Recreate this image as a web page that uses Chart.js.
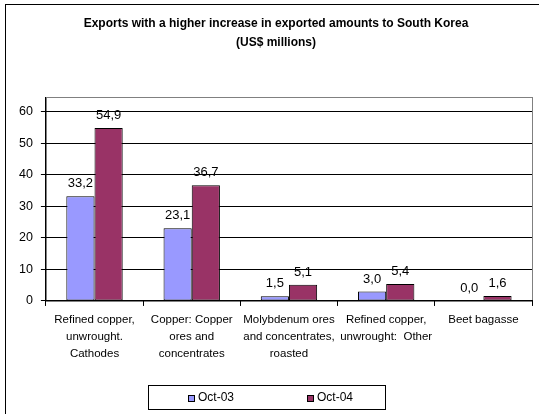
<!DOCTYPE html>
<html>
<head>
<meta charset="utf-8">
<script src="https://cdn.jsdelivr.net/npm/chart.js@4"></script>
<style>
  html, body { margin: 0; padding: 0; background: #fff; }
  #wrap { width: 539px; height: 414px; position: relative; }
</style>
</head>
<body>
<div id="wrap"><canvas id="chart"></canvas></div>
<script>
// values
const categories = [
    ['Refined copper,', 'unwrought.', 'Cathodes'],
    ['Copper: Copper', 'ores and', 'concentrates'],
    ['Molybdenum ores', 'and concentrates,', 'roasted'],
    ['Refined copper,', 'unwrought:  Other'],
    ['Beet bagasse']
];
const seriesNames = ['Oct-03', 'Oct-04'];
const oct03 = [33.2, 23.1, 1.5, 3.0, 0.0];
const oct04 = [54.9, 36.7, 5.1, 5.4, 1.6];
const yMin = 0, yMax = 64.7, yStep = 10;

const FONT = '"Liberation Sans", Arial, sans-serif';
const fmt = v => v.toFixed(1).replace('.', ',');

// frame, plot border, title
const decor = {
    id: 'decor',
    beforeDraw(chart) {
        const ctx = chart.ctx, a = chart.chartArea;
        ctx.save();
        ctx.fillStyle = '#fff';
        ctx.fillRect(0, 0, chart.width, chart.height);
        ctx.strokeStyle = '#000';
        ctx.lineWidth = 1;
        ctx.strokeRect(5.5, 4.5, 700, 700);
        ctx.strokeStyle = '#808080';
        ctx.strokeRect(Math.round(a.left) + 0.5, Math.round(a.top) + 0.5, Math.round(a.right - a.left), Math.round(a.bottom - a.top));
        ctx.fillStyle = '#000';
        ctx.font = 'bold 12px ' + FONT;
        ctx.textAlign = 'center';
        ctx.textBaseline = 'middle';
        ctx.fillText('Exports with a higher increase in exported amounts to South Korea', 276, 24);
        ctx.fillText('(US$ millions)', 276, 43);
        ctx.restore();
    },
    afterDatasetsDraw(chart) {
        const ctx = chart.ctx;
        ctx.save();
        ctx.fillStyle = '#000';
        ctx.font = '13px ' + FONT;
        ctx.textAlign = 'center';
        ctx.textBaseline = 'middle';
        chart.data.datasets.forEach((ds, i) => {
            chart.getDatasetMeta(i).data.forEach((bar, j) => {
                ctx.fillText(fmt(ds.data[j]), bar.x, bar.y - 12.5);
            });
        });
        // legend
        const box = { x: 148.5, y: 385.5, w: 237, h: 24 };
        ctx.strokeStyle = '#000';
        ctx.lineWidth = 1;
        ctx.strokeRect(box.x, box.y, box.w, box.h);
        const itemX = [188, 307];
        ctx.font = '12px ' + FONT;
        ctx.textAlign = 'left';
        chart.data.datasets.forEach((ds, i) => {
            ctx.fillStyle = ds.backgroundColor;
            ctx.fillRect(itemX[i], 395, 6, 6);
            ctx.strokeRect(itemX[i] + 0.5, 395.5, 6, 6);
            ctx.fillStyle = '#000';
            ctx.fillText(ds.label, itemX[i] + 10, 398);
        });
        ctx.restore();
    }
};

new Chart(document.getElementById('chart'), {
    type: 'bar',
    data: {
        labels: categories,
        datasets: [
            { label: seriesNames[0], data: oct03, backgroundColor: '#9999FF' },
            { label: seriesNames[1], data: oct04, backgroundColor: '#993366' }
        ]
    },
    options: {
        responsive: true,
        maintainAspectRatio: false,
        animation: false,
        devicePixelRatio: 1,
        layout: { padding: { top: 97, left: 11, right: 7, bottom: 47 } },
        datasets: {
            bar: {
                borderColor: '#000',
                borderWidth: 1,
                borderSkipped: false,
                categoryPercentage: 0.58,
                barPercentage: 1.0
            }
        },
        plugins: {
            legend: { display: false },
            title: { display: false },
            tooltip: { enabled: false }
        },
        scales: {
            x: {
                grid: { drawOnChartArea: false, color: '#000', tickLength: 5, offset: true },
                border: { color: '#000' },
                ticks: {
                    color: '#000',
                    font: { family: FONT, size: 11.5, lineHeight: 1.48 },
                    padding: 5,
                    maxRotation: 0,
                    autoSkip: false
                }
            },
            y: {
                min: yMin,
                max: yMax,
                grid: { color: '#000', tickLength: 5 },
                border: { color: '#000' },
                ticks: {
                    stepSize: yStep,
                    includeBounds: false,
                    color: '#000',
                    font: { family: FONT, size: 12.5 },
                    padding: 8
                }
            }
        }
    },
    plugins: [decor]
});
</script>
</body>
</html>
